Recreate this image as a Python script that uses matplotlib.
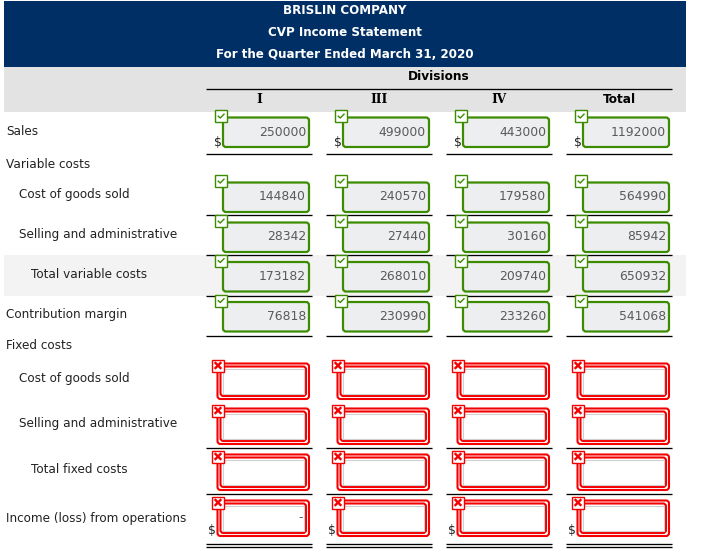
import matplotlib
matplotlib.use("Agg")
import matplotlib.pyplot as plt
from matplotlib.patches import FancyBboxPatch, Rectangle

# 損益計算書のスクリーンショットを再現する
title_lines = ["BRISLIN COMPANY", "CVP Income Statement", "For the Quarter Ended March 31, 2020"]
divisions_label = "Divisions"
columns = ["I", "III", "IV", "Total"]
row_labels = ["Sales", "Cost of goods sold", "Selling and administrative", "Total variable costs",
              "Contribution margin", "Cost of goods sold", "Selling and administrative",
              "Total fixed costs", "Income (loss) from operations"]
section_labels = ["Variable costs", "Fixed costs"]

sales = [250000, 499000, 443000, 1192000]
cogs = [144840, 240570, 179580, 564990]
selling = [28342, 27440, 30160, 85942]
total_var = [173182, 268010, 209740, 650932]
contribution = [76818, 230990, 233260, 541068]

W, H = 705, 553
NAVY = "#002f66"
GREEN = "#3b8c00"
RED = "#f50000"
TEXT = "#222222"
FONT = "DejaVu Sans"

fig = plt.figure(figsize=(W / 100, H / 100), dpi=100)
ax = fig.add_axes([0, 0, 1, 1])
ax.set_xlim(0, W)
ax.set_ylim(H, 0)
ax.axis("off")

col_left = [206, 326, 446, 566]
col_w = 106
label_x = [6, 19, 19, 31, 6, 19, 19, 31, 6]
row_y = [131.7, 194.7, 234.7, 274.7, 314.7, 378.7, 423.7, 469.7, 518.7]
green_top = [117.5, 182.5, 222.5, 262, 302]
red_top = [363.5, 408.5, 454.5, 500.5]
rule_y = [154, 214.5, 255, 295.5, 335.5, 448, 494, 544]


def rule(x0, x1, y, color="black", lw=0.95):
    ax.plot([x0, x1], [y, y], color=color, lw=lw, solid_capstyle="butt")


def rbox(x, y, w, h, **kw):
    ax.add_patch(FancyBboxPatch((x + 2, y + 2), w - 4, h - 4,
                                boxstyle="round,pad=2,rounding_size=3", **kw))


def badge(x, y, ok):
    color = GREEN if ok else RED
    ax.add_patch(Rectangle((x, y), 12, 12, fc="white", ec=color, lw=1, zorder=5))
    if ok:
        ax.plot([x + 3.2, x + 5.3, x + 9], [y + 6.2, y + 8, y + 4.2], color=GREEN, lw=1, zorder=6)
    else:
        ax.plot([x + 3.5, x + 8.5], [y + 3.5, y + 8.5], color=RED, lw=1.7, zorder=6)
        ax.plot([x + 3.5, x + 8.5], [y + 8.5, y + 3.5], color=RED, lw=1.7, zorder=6)


# ヘッダ
ax.add_patch(Rectangle((4, 1), 682, 66, fc=NAVY, ec="none"))
ax.add_patch(Rectangle((4, 67), 682, 45, fc="#e3e3e3", ec="none"))
ax.add_patch(Rectangle((4, 255), 682, 41, fc="#f3f3f3", ec="none"))
for y, line in zip([11, 32, 54], title_lines):
    ax.text(345, y, line, color="white", fontsize=8.6, fontweight="bold", family=FONT, ha="center", va="center")
ax.text(439, 76, divisions_label, color="black", fontsize=8.7, fontweight="bold", family=FONT, ha="center", va="center")
rule(206, 672, 89)
for left, name in zip(col_left, columns):
    # ローマ数字はセリフ付きに見える
    fam = FONT if name == "Total" else "DejaVu Serif"
    ax.text(left + 53, 99.5, name, color="black", fontsize=8.7, fontweight="bold", family=fam, ha="center", va="center")

# 行ラベル
for x, y, name in zip(label_x, row_y, row_labels):
    ax.text(x, y, name, color=TEXT, fontsize=8.65, family=FONT, va="center")
for y, name in zip([164.7, 345.7], section_labels):
    ax.text(6, y, name, color=TEXT, fontsize=8.65, family=FONT, va="center")

# 緑の入力欄
filled = [sales, cogs, selling, total_var, contribution]
for r, values in enumerate(filled):
    top = green_top[r]
    for left, value in zip(col_left, values):
        rbox(left + 17, top, 86, 29.5, fc="#edeef0", ec=GREEN, lw=1.6)
        ax.text(left + 100, top + 14.5, str(value), color="#5a5a5a", fontsize=8.9, family=FONT, ha="right", va="center")
        badge(left + 9, top - 7.5, True)

# 赤の入力欄
for top in red_top:
    for left in col_left:
        rbox(left + 11.5, top, 91.5, 35.5, fc="white", ec=RED, lw=1.5)
        rbox(left + 14.5, top + 3, 85.5, 29.5, fc="white", ec=RED, lw=1.5)
        ax.add_patch(Rectangle((left + 16.5, top + 5), 81.5, 25.5, fc="white", ec="#d0d0d0", lw=0.8))
        badge(left + 6, top - 4, False)
ax.text(col_left[0] + 96.5, 518, "-", color="#555555", fontsize=8.9, family=FONT, ha="right", va="center")

# 罫線と通貨記号
for y in rule_y:
    for left in col_left:
        rule(left, left + col_w, y)
for left in col_left:
    rule(left, left + col_w, rule_y[-1] + 2.7)
    ax.text(left + 12, 142, "$", color=TEXT, fontsize=8.9, family=FONT, ha="center", va="center")
    ax.text(left + 6, 531, "$", color=TEXT, fontsize=8.9, family=FONT, ha="center", va="center")

plt.savefig("out.png", dpi=100)
